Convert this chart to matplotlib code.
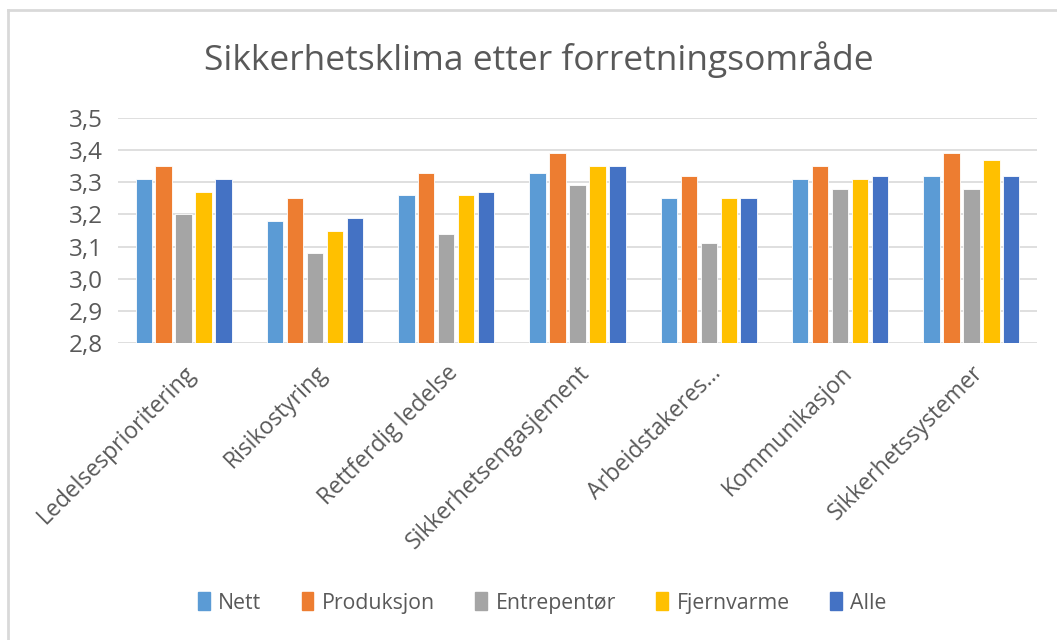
import numpy as np
import matplotlib.pyplot as plt
from matplotlib.lines import Line2D

# Data
categories = ["Ledelsesprioritering", "Risikostyring", "Rettferdig ledelse",
              "Sikkerhetsengasjement", "Arbeidstakeres...", "Kommunikasjon",
              "Sikkerhetssystemer"]
series_names = ["Nett", "Produksjon", "Entrepentør", "Fjernvarme", "Alle"]
nett = [3.31, 3.18, 3.26, 3.33, 3.25, 3.31, 3.32]
produksjon = [3.35, 3.25, 3.33, 3.39, 3.32, 3.35, 3.39]
entrepentor = [3.20, 3.08, 3.14, 3.29, 3.11, 3.28, 3.28]
fjernvarme = [3.27, 3.15, 3.26, 3.35, 3.25, 3.31, 3.37]
alle = [3.31, 3.19, 3.27, 3.35, 3.25, 3.32, 3.32]
yticks = [2.8, 2.9, 3.0, 3.1, 3.2, 3.3, 3.4, 3.5]
ytick_labels = ["2,8", "2,9", "3,0", "3,1", "3,2", "3,3", "3,4", "3,5"]

colors = ["#5B9BD5", "#ED7D31", "#A5A5A5", "#FFC000", "#4472C4"]
text_color = "#595959"

plt.rcParams['font.family'] = ['Open Sans', 'DejaVu Sans']

fig = plt.figure(figsize=(10.57, 6.4), dpi=100)
ax = fig.add_axes([118 / 1057, 1 - 343 / 640, (1037 - 118) / 1057, (343 - 118) / 640])

x = np.arange(len(categories))
all_series = [nett, produksjon, entrepentor, fjernvarme, alle]
step = 0.152
width = 0.125
for i, vals in enumerate(all_series):
    offset = (i - 2) * step
    ax.bar(x + offset, np.array(vals) - 2.8, width, bottom=2.8,
           color=colors[i], edgecolor="white", linewidth=0.6, zorder=3)

ax.set_xlim(-0.5, len(categories) - 0.5)
ax.set_ylim(2.8, 3.5)
ax.set_yticks(yticks)
ax.set_yticklabels(ytick_labels)
ax.grid(axis="y", color="#D9D9D9", linewidth=1.2, zorder=0)
for s in ax.spines.values():
    s.set_visible(False)
ax.tick_params(axis="y", length=0, labelsize=17.5, colors=text_color, pad=11)
ax.set_xticks(x)
ax.set_xticklabels(categories, rotation=45, ha="right", rotation_mode="anchor",
                   fontsize=16.5, color=text_color)
ax.tick_params(axis="x", length=0, pad=13)

fig.text(0.51, 1 - 60 / 640, "Sikkerhetsklima etter forretningsområde",
         ha="center", va="center", fontsize=25.5, color=text_color)

handles = [plt.Rectangle((0, 0), 1, 1, color=c) for c in colors]
fig.legend(handles, series_names, loc="center", bbox_to_anchor=(0.513, 1 - 603 / 640),
           ncol=5, frameon=False, fontsize=15.3, handlelength=0.55, handleheight=0.9,
           handletextpad=0.4, columnspacing=1.9, labelcolor=text_color)

# chart border (only top and left edges visible in the reference)
fig.add_artist(Line2D([8 / 1057, 8 / 1057], [0, 1 - 10 / 640], transform=fig.transFigure,
                      color="#D9D9D9", linewidth=2))
fig.add_artist(Line2D([8 / 1057, 1], [1 - 10 / 640, 1 - 10 / 640], transform=fig.transFigure,
                      color="#D9D9D9", linewidth=2))

plt.savefig("out.png", dpi=100)
